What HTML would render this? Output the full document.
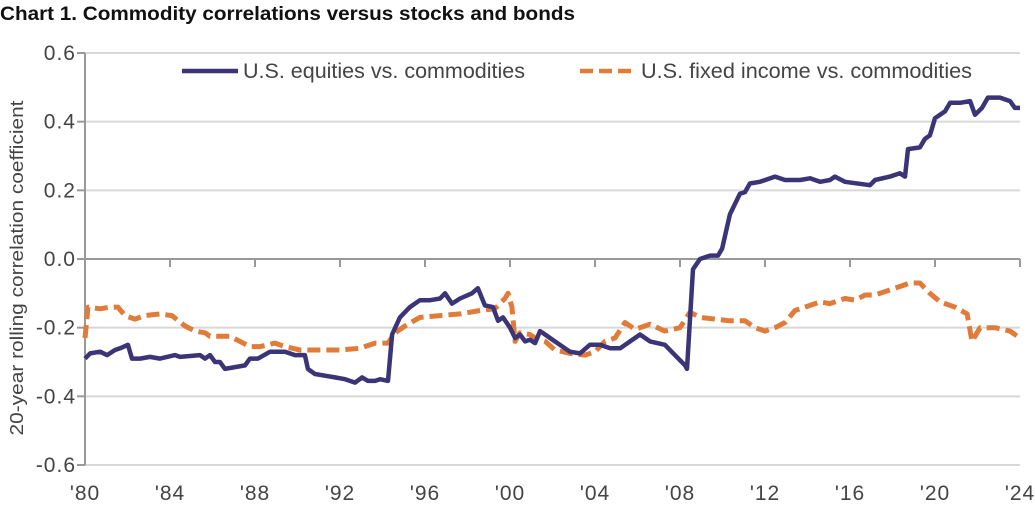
<!DOCTYPE html>
<html><head><meta charset="utf-8"><style>
body{margin:0;background:#fff;width:1035px;height:503px;overflow:hidden}
svg text{font-family:"Liberation Sans",sans-serif}
</style></head><body>
<svg id="chart" width="1035" height="503" viewBox="0 0 1035 503">
<text x="0" y="20" font-size="19" font-weight="bold" fill="#111" textLength="575" lengthAdjust="spacingAndGlyphs">Chart 1. Commodity correlations versus stocks and bonds</text>
<g id="grid"></g><g id="axes"></g><g id="series"></g>
<text transform="translate(23,268) rotate(-90)" text-anchor="middle" font-size="18" fill="#444" textLength="335" lengthAdjust="spacingAndGlyphs">20-year rolling correlation coefficient</text>
<g>
<line x1="182" y1="71" x2="238" y2="71" stroke="#3b3577" stroke-width="4.5"/>
<text x="243" y="78" font-size="21" fill="#444" textLength="282" lengthAdjust="spacingAndGlyphs">U.S. equities vs. commodities</text>
<line x1="580" y1="71" x2="636" y2="71" stroke="#e07b39" stroke-width="4.5" stroke-dasharray="13,6"/>
<text x="641" y="78" font-size="21" fill="#444" textLength="331" lengthAdjust="spacingAndGlyphs">U.S. fixed income vs. commodities</text>
</g>
</svg>
<script>
const yTicks=[0.6,0.4,0.2,0.0,-0.2,-0.4,-0.6];
const yTickLabels=["0.6","0.4","0.2","0.0","-0.2","-0.4","-0.6"];
const xTicks=[1980,1984,1988,1992,1996,2000,2004,2008,2012,2016,2020,2024];
const xTickLabels=["'80","'84","'88","'92","'96","'00","'04","'08","'12","'16","'20","'24"];
const eqYears=[1980,1980.24,1980.71,1981.04,1981.41,1981.65,1982.02,1982.21,1982.59,1983.06,1983.53,1984.24,1984.47,1985.41,1985.65,1985.88,1986.12,1986.35,1986.59,1987.06,1987.53,1987.76,1988.14,1988.71,1989.41,1989.88,1990.35,1990.49,1990.82,1991.29,1991.76,1992.24,1992.71,1993.04,1993.32,1993.65,1993.88,1994.26,1994.45,1994.82,1995.29,1995.76,1996.24,1996.71,1996.94,1997.27,1997.65,1998.21,1998.49,1998.82,1999.2,1999.44,1999.67,2000,2000.24,2000.47,2000.71,2000.94,2001.18,2001.41,2001.65,2001.88,2002.35,2002.82,2003.29,2003.76,2004.24,2004.71,2005.18,2005.65,2006.12,2006.59,2007.29,2007.76,2008.24,2008.33,2008.61,2008.94,2009.41,2009.79,2009.98,2010.35,2010.82,2011.06,2011.29,2011.76,2012.47,2012.94,2013.65,2014.12,2014.59,2015.06,2015.29,2015.76,2016.94,2017.18,2017.88,2018.35,2018.59,2018.73,2019.29,2019.53,2019.76,2020,2020.47,2020.71,2021.18,2021.65,2021.88,2022.21,2022.49,2023.06,2023.53,2023.76,2024];
const eqValues=[-0.29,-0.275,-0.27,-0.28,-0.265,-0.26,-0.25,-0.29,-0.29,-0.285,-0.29,-0.28,-0.285,-0.28,-0.29,-0.28,-0.3,-0.3,-0.32,-0.315,-0.31,-0.29,-0.29,-0.27,-0.27,-0.28,-0.28,-0.32,-0.335,-0.34,-0.345,-0.35,-0.36,-0.345,-0.355,-0.355,-0.35,-0.355,-0.22,-0.17,-0.14,-0.12,-0.12,-0.115,-0.1,-0.13,-0.115,-0.1,-0.085,-0.135,-0.14,-0.18,-0.17,-0.2,-0.23,-0.22,-0.24,-0.235,-0.245,-0.21,-0.22,-0.23,-0.25,-0.27,-0.275,-0.25,-0.25,-0.26,-0.26,-0.24,-0.22,-0.24,-0.25,-0.28,-0.31,-0.32,-0.03,0,0.01,0.01,0.03,0.13,0.19,0.195,0.22,0.225,0.24,0.23,0.23,0.235,0.225,0.23,0.24,0.225,0.215,0.23,0.24,0.25,0.24,0.32,0.325,0.35,0.36,0.41,0.43,0.455,0.455,0.46,0.42,0.44,0.47,0.47,0.46,0.44,0.44];
const fiYears=[1980,1980.14,1980.71,1981.18,1981.55,1981.88,1982.35,1982.82,1983.53,1984.09,1984.71,1985.18,1985.65,1985.88,1986.82,1987.29,1987.76,1988.24,1988.94,1989.41,1990.12,1991.06,1992,1992.94,1993.65,1994.26,1994.59,1995.06,1995.76,1996.71,1997.65,1998.59,1999.29,1999.76,1999.91,2000.09,2000.24,2000.47,2000.94,2001.18,2001.65,2002.12,2002.82,2003.53,2004,2004.47,2004.94,2005.41,2005.88,2006.59,2007.29,2008,2008.47,2008.94,2009.65,2010.35,2011.06,2011.53,2012,2012.47,2012.94,2013.41,2014.12,2014.59,2015.06,2015.76,2016.24,2016.71,2017.18,2017.88,2018.35,2018.82,2019.29,2019.76,2020.24,2020.94,2021.51,2021.74,2022.12,2022.82,2023.53,2024];
const fiValues=[-0.23,-0.14,-0.145,-0.14,-0.14,-0.165,-0.175,-0.165,-0.16,-0.165,-0.195,-0.21,-0.215,-0.225,-0.225,-0.24,-0.255,-0.255,-0.245,-0.255,-0.265,-0.265,-0.265,-0.26,-0.245,-0.245,-0.215,-0.195,-0.17,-0.165,-0.16,-0.15,-0.145,-0.115,-0.1,-0.14,-0.24,-0.215,-0.22,-0.23,-0.24,-0.265,-0.275,-0.28,-0.27,-0.24,-0.23,-0.185,-0.205,-0.19,-0.21,-0.2,-0.155,-0.17,-0.175,-0.18,-0.18,-0.2,-0.21,-0.2,-0.185,-0.15,-0.135,-0.125,-0.13,-0.115,-0.12,-0.105,-0.105,-0.09,-0.08,-0.07,-0.07,-0.1,-0.125,-0.14,-0.16,-0.24,-0.2,-0.2,-0.21,-0.23];

const NS="http://www.w3.org/2000/svg";
const X0=85,X1=1020,Y0=53,Y1=465;
function xs(y){return X0+(y-1980)/(2024-1980)*(X1-X0);}
function ys(v){return Y1-(v+0.6)/1.2*(Y1-Y0);}
function mk(tag,attrs,parent){const e=document.createElementNS(NS,tag);for(const k in attrs)e.setAttribute(k,attrs[k]);parent.appendChild(e);return e;}
const grid=document.getElementById('grid'),axes=document.getElementById('axes'),series=document.getElementById('series');
yTicks.forEach((t,i)=>{
  const isZero=t===0;
  const l=mk('line',{x1:X0,x2:X1,y1:ys(t),y2:ys(t),stroke:isZero?'#999':'#d8d8d8','stroke-width':2},isZero?axes:grid);
  
  
  const tk=mk('line',{x1:X0-8,x2:X0,y1:ys(t),y2:ys(t),stroke:'#999','stroke-width':2},axes);
  
  
  const tx=mk('text',{x:X0-9,y:ys(t)+7,'text-anchor':'end','font-size':21,fill:'#444','letter-spacing':1},axes);
  tx.textContent=yTickLabels[i];
  
  
});
const ax=mk('line',{x1:X0,x2:X0,y1:Y0,y2:Y1,stroke:'#999','stroke-width':2},axes);


xTicks.forEach((t,i)=>{
  const tk=mk('line',{x1:xs(t),x2:xs(t),y1:ys(0),y2:ys(0)+8,stroke:'#999','stroke-width':2},axes);
  
  
  const tx=mk('text',{x:xs(t),y:500,'text-anchor':'middle','font-size':21,fill:'#444','letter-spacing':1},axes);
  tx.textContent=xTickLabels[i];
  
  
});
function pts(xa,va){return xa.map((x,i)=>xs(x).toFixed(1)+','+ys(va[i]).toFixed(1)).join(' ');}
const fi=mk('polyline',{points:pts(fiYears,fiValues),fill:'none',stroke:'#e07b39','stroke-width':5,'stroke-dasharray':'13,6','stroke-linejoin':'round'},series);


const eq=mk('polyline',{points:pts(eqYears,eqValues),fill:'none',stroke:'#3b3577','stroke-width':4.5,'stroke-linejoin':'round'},series);


</script>
</body></html>
